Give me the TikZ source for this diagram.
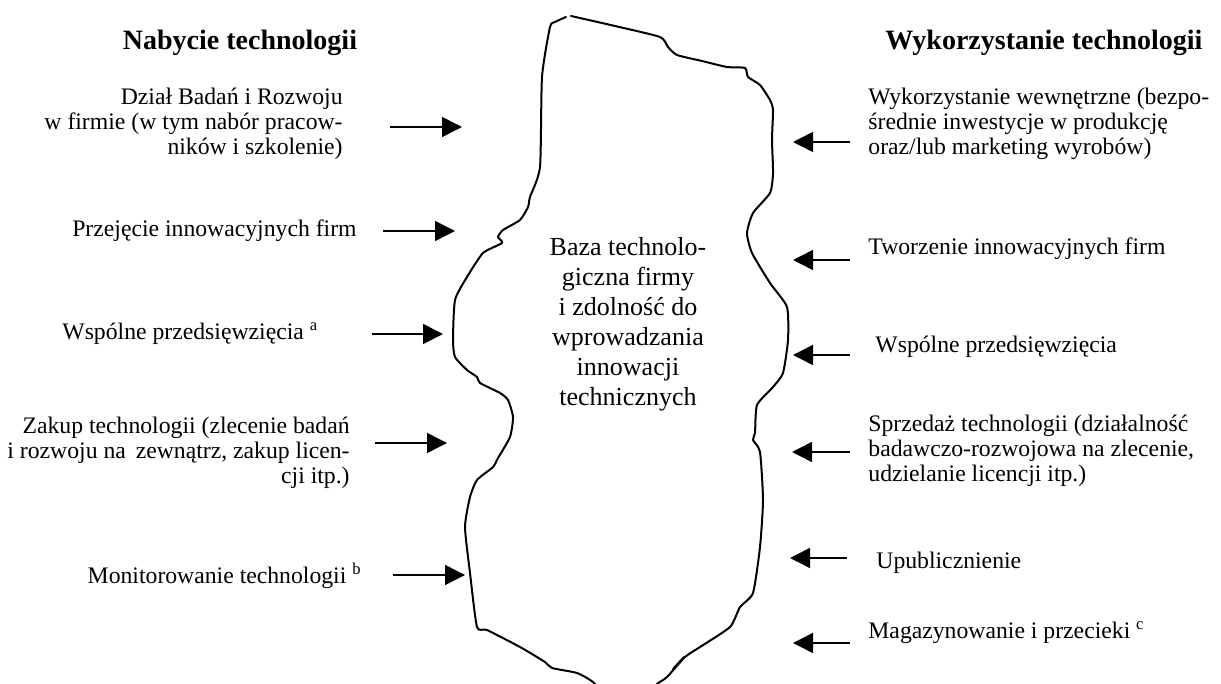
\documentclass[tikz,border=0pt]{standalone}
\usepackage{fontspec}
\setmainfont{Liberation Serif}
\usetikzlibrary{arrows.meta}
\begin{document}
\begin{tikzpicture}[x=0.5pt,y=-0.5pt,
  lbl/.style={inner sep=0pt, font=\fontsize{11.85}{12.5}\selectfont},
  head/.style={inner sep=0pt, font=\fontsize{14}{16}\selectfont\bfseries},
  core/.style={inner sep=0pt, align=center, font=\fontsize{13}{15}\selectfont},
  arr/.style={line width=0.75pt, -{Triangle[length=10pt,width=10pt]}},
  blob/.style={line width=1pt, line join=round, line cap=round}]
\useasboundingbox (0,0) rectangle (1221,684);

% column headings
\node[head, anchor=base] (hl) at (240,50) {Nabycie technologii};
\node[head, anchor=base] (hr) at (1044,50) {Wykorzystanie technologii};

% the firm's technology base (irregular outline, open at the bottom edge)
\begin{scope}
\clip (0,0) rectangle (1221,684);
\draw[blob] plot[smooth, tension=0.35] coordinates {
  (566,17) (555,22) (550,27) (542,77) (540,167) (530,197) (528,207)
  (520,220) (503,230) (498,237) (502,243) (483,253) (467,277) (455,300)
  (453,340) (455,357) (467,370) (477,377) (480,383) (500,393) (508,400)
  (513,417) (510,437) (498,458) (493,467) (477,480) (470,497) (465,527)
  (470,573) (477,627) (487,630) (520,647) (545,662) (552,668) (577,673)
  (593,682) (610,700) (640,700) (657,684) (667,677) (685,657) (700,647)
  (730,627) (740,607) (753,593) (760,547) (763,500) (760,452) (753,440)
  (755,433) (757,405) (773,387) (783,373) (788,340) (787,307) (770,283)
  (752,253) (747,233) (753,213) (770,193) (773,173) (772,140) (773,110)
  (770,100) (760,85) (748,77) (745,68) (727,67) (702,61) (677,55)
  (668,47) (660,37) (615,26) (571,16)};
\draw[blob] (673,669) -- (684,657);
\end{scope}

% multi-line nodes are placed by the baseline of their last line
\node[core, anchor=base] (core) at (628,405) {Baza technolo-\\ giczna firmy\\ i zdolność do\\ wprowadzania\\ innowacji\\ technicznych};

% acquisition channels
\node[lbl, align=right, anchor=base east] (l1) at (343,155) {Dział Badań i Rozwoju\\ w firmie (w tym nabór pracow-\\ ników i szkolenie)};
\node[lbl, anchor=base east] (l2) at (357,237) {Przejęcie innowacyjnych firm};
\node[lbl, anchor=base west] (l3) at (62,339) {Wspólne przedsięwzięcia \textsuperscript{a}};
\node[lbl, align=right, anchor=base east] (l4) at (350,483) {Zakup technologii (zlecenie badań\\ i rozwoju na \,zewnątrz, zakup licen-\\ cji itp.)};
\node[lbl, anchor=base east] (l5) at (362,583) {Monitorowanie technologii \textsuperscript{b}};

% exploitation channels
\node[lbl, align=left, anchor=base west] (r1) at (868,155) {Wykorzystanie wewnętrzne (bezpo-\\ średnie inwestycje w produkcję\\ oraz/lub marketing wyrobów)};
\node[lbl, anchor=base west] (r2) at (868,255) {Tworzenie innowacyjnych firm};
\node[lbl, anchor=base west] (r3) at (875,352) {Wspólne przedsięwzięcia};
\node[lbl, align=left, anchor=base west] (r4) at (868,481) {Sprzedaż technologii (działalność\\ badawczo-rozwojowa na zlecenie,\\ udzielanie licencji itp.)};
\node[lbl, anchor=base west] (r5) at (876,568) {Upublicznienie};
\node[lbl, anchor=base west] (r6) at (868,638) {Magazynowanie i przecieki \textsuperscript{c}};

% arrow ends
\coordinate (a1s) at (390,127); \coordinate (a1e) at (462,127);
\coordinate (a2s) at (383,231); \coordinate (a2e) at (455,231);
\coordinate (a3s) at (372,334); \coordinate (a3e) at (443,334);
\coordinate (a4s) at (375,443); \coordinate (a4e) at (447,443);
\coordinate (a5s) at (393,575); \coordinate (a5e) at (465,575);
\coordinate (b1s) at (850,142); \coordinate (b1e) at (793,142);
\coordinate (b2s) at (850,260); \coordinate (b2e) at (793,260);
\coordinate (b3s) at (850,355); \coordinate (b3e) at (793,355);
\coordinate (b4s) at (850,452); \coordinate (b4e) at (792,452);
\coordinate (b5s) at (847,558); \coordinate (b5e) at (790,558);
\coordinate (b6s) at (850,643); \coordinate (b6e) at (793,643);

\foreach \p in {a1,a2,a3,a4,a5,b1,b2,b3,b4,b5,b6}
  \draw[arr] (\p s) -- (\p e);
\end{tikzpicture}
\end{document}
